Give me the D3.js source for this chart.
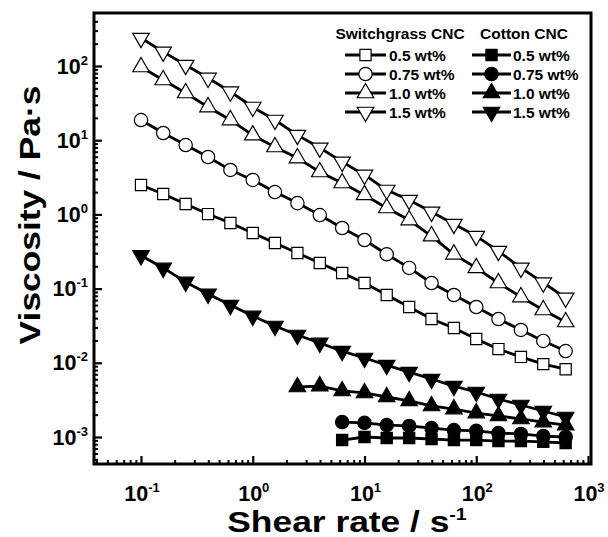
<!DOCTYPE html>
<html>
<head>
<meta charset="utf-8">
<script src="https://cdn.jsdelivr.net/npm/d3@7"></script>
<style>
  body { margin: 0; background: #fff; }
  svg { display: block; }
  text { font-family: "Liberation Sans", Arial, Helvetica, sans-serif; font-weight: bold; fill: #000; }
</style>
</head>
<body>
<svg id="chart" width="608" height="537"></svg>
<script>
// Shear rates (1/s), five points per decade
const shearFull = [0.1, 0.158, 0.251, 0.398, 0.631, 1, 1.58, 2.51, 3.98, 6.31,
                   10, 15.8, 25.1, 39.8, 63.1, 100, 158, 251, 398, 631];
const shearFrom2 = [2.51, 3.98, 6.31, 10, 15.8, 25.1, 39.8, 63.1, 100, 158, 251, 398, 631];
const shearFrom6 = [6.31, 10, 15.8, 25.1, 39.8, 63.1, 100, 158, 251, 398, 631];

// Viscosity (Pa·s) – switchgrass CNC suspensions
const switchgrass05 = [2.49, 1.88, 1.38, 1.01, 0.766, 0.561, 0.412, 0.302, 0.221, 0.162,
                       0.119, 0.082, 0.0565, 0.0389, 0.0294, 0.0209, 0.0153, 0.012, 0.0096, 0.0082];
const switchgrass075 = [18.7, 12.5, 8.61, 5.94, 3.97, 2.91, 2.0, 1.42, 0.98, 0.656,
                        0.452, 0.29, 0.19, 0.119, 0.082, 0.0565, 0.0389, 0.0277, 0.0197, 0.0144];
const switchgrass10 = [97, 64.8, 43.3, 28.0, 18.7, 11.7, 8.1, 5.75, 3.73, 2.65,
                       1.83, 1.22, 0.84, 0.51, 0.29, 0.19, 0.119, 0.077, 0.0515, 0.0355];
const switchgrass15 = [238, 155, 103, 69, 45, 28, 18.7, 11.7, 7.9, 5.1,
                       3.4, 2.13, 1.56, 1.08, 0.74, 0.51, 0.32, 0.19, 0.12, 0.075];

// Viscosity (Pa·s) – cotton CNC suspensions
const cotton05 = [0.00091, 0.001, 0.00097, 0.00097, 0.00094, 0.00091, 0.00091, 0.00088, 0.00088, 0.00086, 0.00083];
const cotton075 = [0.00159, 0.00155, 0.00145, 0.00141, 0.00132, 0.00124, 0.00121, 0.00113, 0.0011, 0.00103, 0.001];
const cotton10 = [0.00472, 0.00486, 0.00417, 0.00392, 0.00346, 0.00306, 0.00262, 0.00238, 0.0021, 0.00192, 0.00175, 0.00159, 0.00145];
const cotton15 = [0.28, 0.19, 0.123, 0.0846, 0.06, 0.0428, 0.0313, 0.0237, 0.0185, 0.0144,
                  0.0116, 0.0093, 0.0075, 0.00605, 0.00486, 0.00404, 0.00325, 0.0027, 0.00224, 0.00186];

// Axis ticks and text
const xMajorTicks = [0.1, 1, 10, 100, 1000];
const yMajorTicks = [1e-3, 1e-2, 1e-1, 1, 10, 100];
const concentrationLabels = ["0.5 wt%", "0.75 wt%", "1.0 wt%", "1.5 wt%"];
const groupTitles = ["Switchgrass CNC", "Cotton CNC"];
const xTitle = "Shear rate / s";
const yTitle = "Viscosity / Pa·s";

const svg = d3.select("#chart");
const box = { left: 94, right: 591, top: 13, bottom: 464 };

const x = d3.scaleLog().domain([0.1, 1000]).range([141, 588]);
const y = d3.scaleLog().domain([1e-3, 1e2]).range([437, 66]);

// minor ticks (2..9 of each decade) that fall inside the frame
function minorTicks(scale, lo, hi, decades) {
  const out = [];
  decades.forEach(d => { for (let m = 2; m <= 9; m++) out.push(m * d); });
  return out.filter(v => { const p = scale(v); return p > lo && p < hi; });
}
const xMinor = minorTicks(x, box.left + 2, box.right - 2, [0.01, 0.1, 1, 10, 100]);
const yMinor = minorTicks(y, box.top + 2, box.bottom - 2, [1e-4, 1e-3, 1e-2, 1e-1, 1, 10, 100]);

function styleAxis(g, width) {
  g.select(".domain").remove();
  g.selectAll(".tick line").attr("stroke", "#000").attr("stroke-width", width);
  g.selectAll(".tick text").remove();
}

// bottom axis ticks (pointing inward)
svg.append("g").attr("transform", `translate(0,${box.bottom})`)
  .call(d3.axisBottom(x).tickValues(xMajorTicks).tickSize(-8).tickFormat(""))
  .call(g => styleAxis(g, 2.2));
svg.append("g").attr("transform", `translate(0,${box.bottom})`)
  .call(d3.axisBottom(x).tickValues(xMinor).tickSize(-4).tickFormat(""))
  .call(g => styleAxis(g, 2));
// left axis ticks (pointing inward)
svg.append("g").attr("transform", `translate(${box.left},0)`)
  .call(d3.axisLeft(y).tickValues(yMajorTicks).tickSize(-8).tickFormat(""))
  .call(g => styleAxis(g, 2.2));
svg.append("g").attr("transform", `translate(${box.left},0)`)
  .call(d3.axisLeft(y).tickValues(yMinor).tickSize(-4).tickFormat(""))
  .call(g => styleAxis(g, 2));

// frame
svg.append("rect")
  .attr("x", box.left).attr("y", box.top)
  .attr("width", box.right - box.left).attr("height", box.bottom - box.top)
  .attr("fill", "none").attr("stroke", "#000").attr("stroke-width", 3);

// power-of-ten tick labels
function powerLabel(sel, exp) {
  sel.append("tspan").text("10");
  sel.append("tspan").attr("dy", -9).attr("font-size", 13).text(exp);
}
xMajorTicks.forEach(v => {
  svg.append("text")
    .attr("x", x(v) + 1).attr("y", 501)
    .attr("text-anchor", "middle").attr("font-size", 21.5)
    .call(t => powerLabel(t, String(Math.round(Math.log10(v)))));
});
yMajorTicks.forEach(v => {
  svg.append("text")
    .attr("x", 88).attr("y", y(v) + 7.5)
    .attr("text-anchor", "end").attr("font-size", 21.5)
    .call(t => powerLabel(t, String(Math.round(Math.log10(v)))));
});

// axis titles (wide bold lettering)
svg.append("text")
  .attr("transform", "translate(347,532) scale(1.22,1)")
  .attr("text-anchor", "middle").attr("font-size", 29)
  .call(t => {
    t.append("tspan").text(xTitle);
    t.append("tspan").attr("dy", -12).attr("font-size", 16).text("-1");
  });
svg.append("text")
  .attr("transform", "translate(40,215) rotate(-90) scale(1.22,1)")
  .attr("text-anchor", "middle").attr("font-size", 29)
  .text(yTitle);

// marker shapes
const markerDefs = [
  { type: d3.symbolSquare, size: 125, rot: 0 },
  { type: d3.symbolCircle, size: 140, rot: 0 },
  { type: d3.symbolTriangle, size: 118, rot: 0 },
  { type: d3.symbolTriangle, size: 118, rot: 180 }
];

const series = [
  { xs: shearFull, ys: switchgrass05, m: 0, filled: false },
  { xs: shearFull, ys: switchgrass075, m: 1, filled: false },
  { xs: shearFull, ys: switchgrass10, m: 2, filled: false },
  { xs: shearFull, ys: switchgrass15, m: 3, filled: false },
  { xs: shearFrom6, ys: cotton05, m: 0, filled: true },
  { xs: shearFrom6, ys: cotton075, m: 1, filled: true },
  { xs: shearFrom2, ys: cotton10, m: 2, filled: true },
  { xs: shearFull, ys: cotton15, m: 3, filled: true }
];

const line = d3.line().x(d => x(d[0])).y(d => y(d[1]));

function drawMarker(g, cx, cy, def, filled) {
  g.append("path")
    .attr("d", d3.symbol().type(def.type).size(def.size)())
    .attr("transform", `translate(${cx},${cy}) rotate(${def.rot})`)
    .attr("fill", filled ? "#000" : "#fff")
    .attr("stroke", "#000").attr("stroke-width", 1.2);
}

const plot = svg.append("g");
series.forEach(s => {
  const pts = s.xs.map((v, i) => [v, s.ys[i]]);
  plot.append("path").datum(pts)
    .attr("d", line).attr("fill", "none")
    .attr("stroke", "#000").attr("stroke-width", 2.8);
  const g = plot.append("g");
  pts.forEach(p => drawMarker(g, x(p[0]), y(p[1]), markerDefs[s.m], s.filled));
});

// legend
const legend = svg.append("g");
const cols = [{ title: 400, x0: 345, x1: 386, tx: 389 }, { title: 524, x0: 472, x1: 511, tx: 513 }];
const rowY = [55, 74, 93, 112];
groupTitles.forEach((title, c) => {
  legend.append("text").attr("x", cols[c].title).attr("y", 39)
    .attr("text-anchor", "middle").attr("font-size", 15.5).text(title);
  concentrationLabels.forEach((lab, r) => {
    const col = cols[c], yy = rowY[r];
    legend.append("line").attr("x1", col.x0).attr("x2", col.x1)
      .attr("y1", yy).attr("y2", yy).attr("stroke", "#000").attr("stroke-width", 2.8);
    drawMarker(legend, (col.x0 + col.x1) / 2, yy, markerDefs[r], c === 1);
    legend.append("text").attr("x", col.tx).attr("y", yy + 5.5)
      .attr("font-size", 15.5).text(lab);
  });
});
</script>
</body>
</html>
